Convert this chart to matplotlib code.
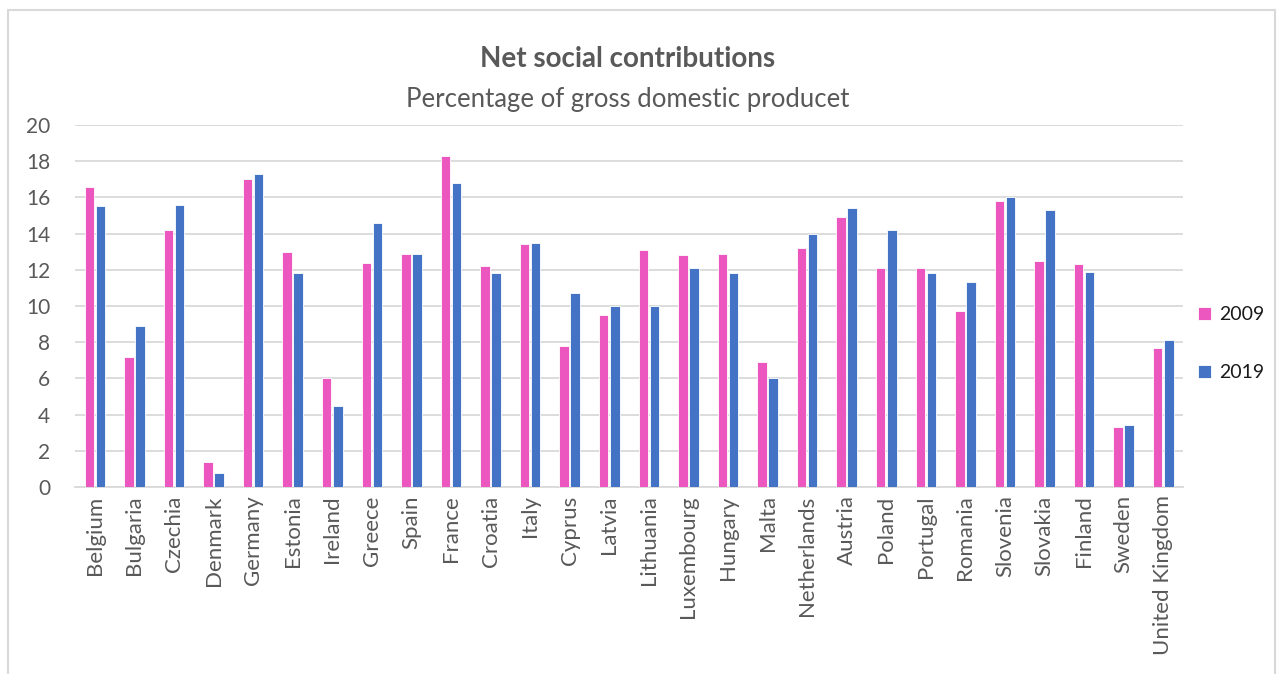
import numpy as np
import matplotlib.pyplot as plt
from matplotlib.patches import Rectangle

plt.rcParams['font.family'] = ['Lato', 'DejaVu Sans']

countries = ['Belgium', 'Bulgaria', 'Czechia', 'Denmark', 'Germany', 'Estonia', 'Ireland',
             'Greece', 'Spain', 'France', 'Croatia', 'Italy', 'Cyprus', 'Latvia', 'Lithuania',
             'Luxembourg', 'Hungary', 'Malta', 'Netherlands', 'Austria', 'Poland', 'Portugal',
             'Romania', 'Slovenia', 'Slovakia', 'Finland', 'Sweden', 'United Kingdom']
v2009 = [16.6, 7.2, 14.2, 1.4, 17.0, 13.0, 6.0, 12.4, 12.9, 18.3, 12.2, 13.4, 7.8, 9.5, 13.1,
         12.8, 12.9, 6.9, 13.2, 14.9, 12.1, 12.1, 9.7, 15.8, 12.5, 12.3, 3.3, 7.7]
v2019 = [15.5, 8.9, 15.6, 0.8, 17.3, 11.8, 4.5, 14.6, 12.9, 16.8, 11.8, 13.5, 10.7, 10.0, 10.0,
         12.1, 11.8, 6.0, 14.0, 15.4, 14.2, 11.8, 11.3, 16.0, 15.3, 11.9, 3.4, 8.1]

pink = '#EB57BE'
blue = '#4472C4'
grey = '#595959'

fig = plt.figure(figsize=(12.83, 6.74), dpi=100)
fig.patches.append(Rectangle((8 / 1283, -0.1), 1267 / 1283, 1.1 - 10 / 674,
                             transform=fig.transFigure, fill=False,
                             edgecolor='#D9D9D9', linewidth=1.5))
ax = fig.add_axes([0.0585, 0.2774, 0.8636, 0.5371])

x = np.arange(len(countries))
w = 0.24
ax.bar(x - w / 2 - 0.02, v2009, w, color=pink, edgecolor='white', linewidth=0.6, label='2009', zorder=3)
ax.bar(x + w / 2 + 0.02, v2019, w, color=blue, edgecolor='white', linewidth=0.6, label='2019', zorder=3)

ax.set_xlim(-0.5, len(countries) - 0.5)
ax.set_ylim(0, 20)
ax.set_yticks(range(0, 21, 2))
ax.set_xticks(x)
ax.set_xticklabels(countries, rotation=90, fontsize=16, color=grey)
ax.tick_params(axis='y', labelsize=15, colors=grey, length=0, pad=18)
ax.tick_params(axis='x', length=0, pad=6)
ax.grid(axis='y', color='#D9D9D9', linewidth=1.3, zorder=0)
for s in ['top', 'right', 'left']:
    ax.spines[s].set_visible(False)
ax.spines['bottom'].set_color('#D9D9D9')
ax.spines['bottom'].set_linewidth(1.3)

fig.text(0.489, 0.912, 'Net social contributions', ha='center', va='center',
         fontsize=20, fontweight='bold', color=grey)
fig.text(0.489, 0.853, 'Percentage of gross domestic producet', ha='center', va='center',
         fontsize=18.5, color=grey)

leg = fig.legend(loc='center left', bbox_to_anchor=(0.92, 0.49), frameon=False, fontsize=14,
                 handlelength=0.7, handleheight=0.7, labelspacing=2.1, handletextpad=0.4)
for t in leg.get_texts():
    t.set_color('#1A1A1A')

fig.savefig('out.png', dpi=100)
